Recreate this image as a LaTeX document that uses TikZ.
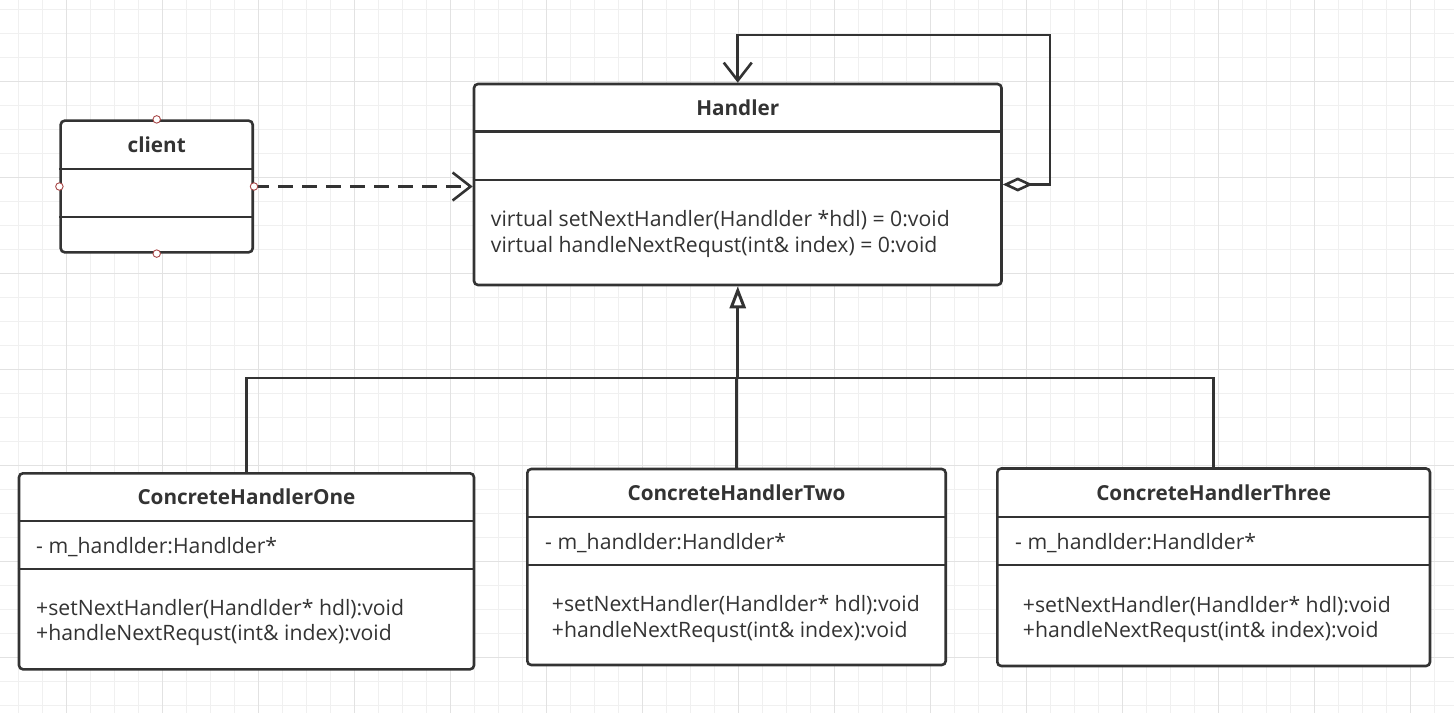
\documentclass[tikz,border=0pt]{standalone}
\usepackage{fontspec}
\setmainfont{Open Sans}
\usetikzlibrary{arrows.meta}
\definecolor{umldark}{HTML}{333333}
\definecolor{gridminor}{HTML}{F0F0F0}
\definecolor{gridmajor}{HTML}{E2E2E2}
\definecolor{handlered}{HTML}{A84848}
\def\umlfont{\fontsize{21.2bp}{26bp}\selectfont}
\def\umltitlefont{\fontsize{20.7bp}{26bp}\selectfont\bfseries}
\tikzset{
  classbox/.style={draw=umldark,line width=2.6bp,rounded corners=4bp,fill=white,inner sep=0pt},
  divider/.style={draw=umldark,line width=2.4bp},
  classtitle/.style={font=\umltitlefont,text=umldark,inner sep=0pt},
  member/.style={anchor=base west,font=\umlfont,text=umldark,inner sep=0pt},
  handle/.style={circle,draw=handlered,fill=white,line width=0.9bp,inner sep=0pt,minimum size=7.5bp},
  link/.style={draw=umldark,line width=2.6bp},
  usesarrow/.style={link,dash pattern=on 15bp off 9bp,-{Straight Barb[length=18bp,width=28bp]}},
  selfarrow/.style={link,{Diamond[fill=white,length=30bp,width=14bp]}-{Straight Barb[length=18bp,width=28bp]}},
  inherit/.style={link,line width=3bp,-{Triangle[fill=white,length=22bp,width=16bp]}}
}
\begin{document}
\begin{tikzpicture}[x=1bp,y=-1bp]
  \useasboundingbox (0,0) rectangle (1454,713);
  % Raster
  \fill[white] (0,0) rectangle (1454,713);
  \foreach \gx in {0,...,59} \draw[gridminor,line width=1bp] ({18.7+24*\gx},0) -- ++(0,713);
  \foreach \gy in {0,...,29} \draw[gridminor,line width=1bp] (0,{9.3+24*\gy}) -- ++(1454,0);
  \foreach \gx in {0,...,14} \draw[gridmajor,line width=1bp] ({66.7+96*\gx},0) -- ++(0,713);
  \foreach \gy in {0,...,6} \draw[gridmajor,line width=1bp] (0,{81.3+96*\gy}) -- ++(1454,0);

  % Klassen
  \node[classbox,minimum width=192bp,minimum height=131.6bp] (client) at (156.7,186.5) {};
  \node[classbox,minimum width=527.5bp,minimum height=201bp] (handler) at (737.75,184.5) {};
  \node[classbox,minimum width=455bp,minimum height=196bp] (one) at (246.5,571.3) {};
  \node[classbox,minimum width=418.4bp,minimum height=196bp] (two) at (736.5,567) {};
  \node[classbox,minimum width=432.7bp,minimum height=197.5bp] (three) at (1213.65,567.25) {};

  % Trennlinien
  \foreach \cls/\da/\db in {client/169/217, handler/131.5/180, one/521/568.7, two/517/564.7, three/517/565}{
    \draw[divider] (\cls.west |- 0,\da) -- (\cls.east |- 0,\da);
    \draw[divider] (\cls.west |- 0,\db) -- (\cls.east |- 0,\db);
  }

  % Titel
  \node[classtitle] (clientT) at (156.7,145) {client};
  \node[classtitle] (handlerT) at (737.75,108) {Handler};
  \node[classtitle] (oneT) at (246.5,497) {ConcreteHandlerOne};
  \node[classtitle] (twoT) at (736.5,493) {ConcreteHandlerTwo};
  \node[classtitle] (threeT) at (1213.65,493) {ConcreteHandlerThree};

  % Methoden
  \node[member] (hm1) at (490.7,226.7) {virtual setNextHandler(Handlder *hdl) = 0:void};
  \node[member] (hm2) at (490.7,252.3) {virtual handleNextRequst(int\& index) = 0:void};
  \foreach \cls/\ax/\mx/\ay/\my in {one/36/36/553/615, two/545/551.7/549/611.7, three/1015/1022.7/549/612}{
    \node[member] (\cls A) at (\ax,\ay) {- m\_handlder:Handlder*};
    \node[member] (\cls M1) at (\mx,\my) {+setNextHandler(Handlder* hdl):void};
    \node[member] (\cls M2) at (\mx,\my+25.5) {+handleNextRequst(int\& index):void};
  }

  % Verbindungen
  \draw[usesarrow] (client.east) -- (client.east -| handler.west);
  \coordinate (loop) at (1050,35);
  \draw[selfarrow] (handler.east) -| (loop) -| (handler.north);
  \coordinate (fork) at (handler.south |- 0,378);
  \draw[link] (one.north) |- (fork) -| (three.north);
  \draw[link] (two.north) -- (two.north |- fork);
  \draw[inherit] (fork) -- (handler.south);

  % Griffe
  \node[handle] (clientN) at (client.north) {};
  \node[handle] (clientS) at (client.south) {};
  \node[handle] (clientW) at (client.west) {};
  \node[handle] (clientE) at (client.east) {};
\end{tikzpicture}
\end{document}
